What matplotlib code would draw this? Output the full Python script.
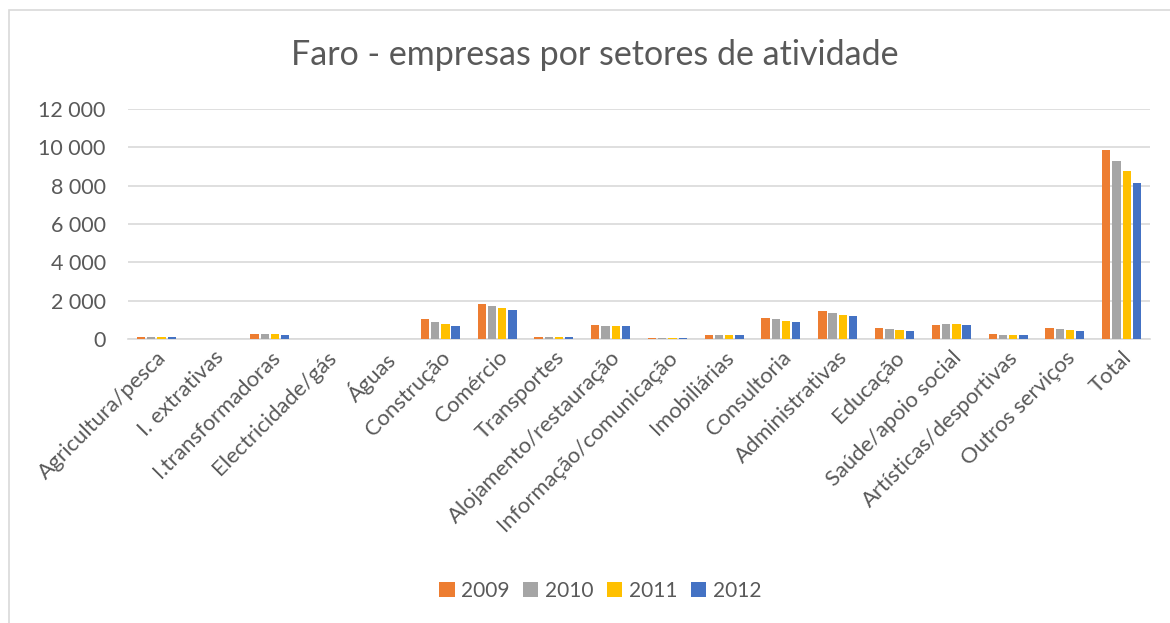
import matplotlib.pyplot as plt
import numpy as np
from matplotlib.patches import Rectangle
from matplotlib.ticker import FuncFormatter

# Firms in Faro by sector of activity
sectors = [
    "Agricultura/pesca", "I. extrativas", "I.transformadoras", "Electricidade/gás",
    "Águas", "Construção", "Comércio", "Transportes", "Alojamento/restauração",
    "Informação/comunicação", "Imobiliárias", "Consultoria", "Administrativas",
    "Educação", "Saúde/apoio social", "Artísticas/desportivas", "Outros serviços", "Total",
]
years = ["2009", "2010", "2011", "2012"]
v2009 = [120, 5, 280, 3, 4, 1035, 1825, 130, 725, 70, 230, 1095, 1465, 585, 750, 240, 560, 9860]
v2010 = [120, 5, 260, 3, 4, 880, 1735, 120, 690, 55, 230, 1040, 1360, 515, 800, 210, 540, 9285]
v2011 = [110, 4, 245, 3, 4, 770, 1615, 120, 700, 55, 190, 955, 1235, 480, 800, 210, 480, 8745]
v2012 = [110, 4, 210, 3, 4, 665, 1525, 120, 670, 70, 200, 865, 1200, 410, 750, 190, 430, 8130]
colors = ["#ED7D31", "#A5A5A5", "#FFC000", "#4472C4"]

text_color = "#595959"
plt.rcParams["font.family"] = ["Lato", "DejaVu Sans"]

fig = plt.figure(figsize=(11.7, 6.23), dpi=100)
ax = fig.add_axes([128 / 1170, 1 - 339 / 623, 1022 / 1170, 230 / 623])

x = np.arange(len(sectors))
step = 0.18
width = 0.145
for i, (vals, year, c) in enumerate(zip([v2009, v2010, v2011, v2012], years, colors)):
    ax.bar(x + (i - 1.5) * step, vals, width=width, color=c, label=year, zorder=3)

ax.set_xlim(-0.5, len(sectors) - 0.5)
ax.set_ylim(0, 12000)
ax.set_yticks(np.arange(0, 12001, 2000))
ax.yaxis.set_major_formatter(FuncFormatter(lambda v, _: f"{int(v):,}".replace(",", " ")))
ax.grid(axis="y", color="#D9D9D9", linewidth=1.2, zorder=0)
ax.set_axisbelow(True)

for side in ["left", "right", "top"]:
    ax.spines[side].set_visible(False)
ax.spines["bottom"].set_color("#D9D9D9")
ax.spines["bottom"].set_linewidth(1.2)
ax.tick_params(length=0, colors=text_color)
ax.tick_params(axis="y", pad=16, labelsize=15.5)
ax.tick_params(axis="x", pad=6, labelsize=15.8)

ax.set_xticks(x)
ax.set_xticklabels(sectors, rotation=45, ha="right", rotation_mode="anchor")

fig.text(595 / 1170, 1 - 55 / 623, "Faro - empresas por setores de atividade",
         ha="center", va="center", fontsize=24.5, color=text_color)

leg = fig.legend(loc="center", bbox_to_anchor=(600 / 1170, 1 - 591 / 623), ncol=4,
                 frameon=False, fontsize=15, handlelength=0.75, handleheight=0.75,
                 handletextpad=0.3, columnspacing=0.65)
for t in leg.get_texts():
    t.set_color(text_color)

# chart frame
fig.patches.append(Rectangle((8.5 / 1170, -0.1), 1.2, 1.1 - 10.5 / 623,
                             transform=fig.transFigure, fill=False,
                             edgecolor="#D9D9D9", linewidth=1.2))

fig.savefig("out.png", dpi=100)
